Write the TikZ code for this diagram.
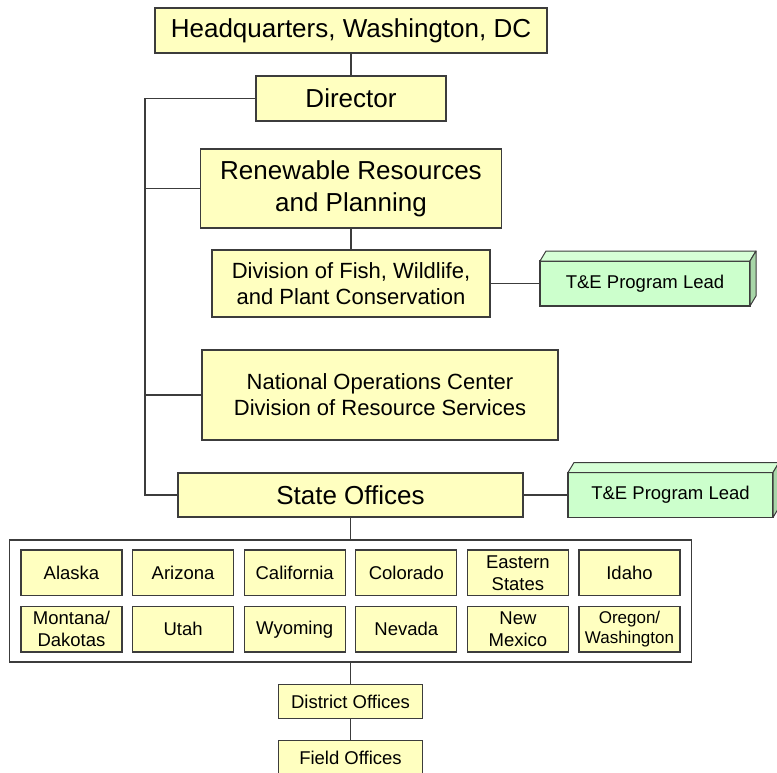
\documentclass[tikz,border=0pt]{standalone}
\usepackage{fontspec}
\setmainfont{Liberation Sans}
\usetikzlibrary{matrix}
\usetikzlibrary{positioning}

\definecolor{boxyellow}{RGB}{255,255,192}
\definecolor{leadgreen}{RGB}{204,255,204}
\definecolor{leadtop}{RGB}{214,255,214}
\definecolor{leadside}{RGB}{168,214,168}
\definecolor{edgegray}{RGB}{60,60,60}

\tikzset{
  orgbox/.style={draw=edgegray, line width=1.2pt, fill=boxyellow, align=center, inner sep=0pt, outer sep=0pt},
  bigtext/.style={font=\fontsize{26}{32}\selectfont},
  midtext/.style={font=\fontsize{22}{26}\selectfont},
  smalltext/.style={font=\fontsize{18.5}{22}\selectfont},
  statebox/.style={orgbox, smalltext, minimum width=101pt, minimum height=45.5pt},
  leadbox/.style={draw=edgegray, line width=1.2pt, fill=leadgreen, smalltext, inner sep=0pt, outer sep=0pt, minimum height=45pt},
  leadface/.style={draw=edgegray, line width=1pt, line join=round},
  link/.style={draw=edgegray, line width=1.2pt},
}

\begin{document}
\begin{tikzpicture}[x=1pt, y=-1pt]

    \useasboundingbox (0,0) rectangle (777,772);
    \clip (0,0) rectangle (777,772);

    \node (HQ) [orgbox, bigtext, minimum width=392pt, minimum height=45pt] at (351,30.5) {Headquarters, Washington, DC};
    \node (Director) [orgbox, bigtext, minimum width=190pt, minimum height=45pt, below=23pt of HQ] {Director};
    \node (Renewable) [orgbox, bigtext, minimum width=301pt, minimum height=79pt, below=28pt of Director] {Renewable Resources\\and Planning};
    \node (Division) [orgbox, midtext, minimum width=278pt, minimum height=67pt, below=22pt of Renewable] {Division of Fish, Wildlife,\\and Plant Conservation};
    \node (National) [orgbox, midtext, minimum width=356pt, minimum height=90pt] at (380,395) {National Operations Center\\Division of Resource Services};
    \node (StateOffices) [orgbox, bigtext, minimum width=345pt, minimum height=44pt] at (350.5,495) {State Offices};

    \node (TELead1) [leadbox, minimum width=210pt, right=50pt of Division] {T\&E Program Lead};
    \node (TELead2) [leadbox, minimum width=205pt, right=45pt of StateOffices] {T\&E Program Lead};

    \matrix[name=States, draw=edgegray, line width=1.2pt, fill=white, inner xsep=10.6pt, inner ysep=9.4pt,
            column sep=9.4pt, row sep=9.8pt, nodes={statebox}] at (350.5,601) {
      \node (Alaska) {Alaska}; & \node (Arizona) {Arizona}; & \node (California) {California}; & \node (Colorado) {Colorado}; & \node (Eastern) {Eastern\\States}; & \node (Idaho) {Idaho}; \\
      \node (Montana) {Montana/\\Dakotas}; & \node (Utah) {Utah}; & \node (Wyoming) {Wyoming}; & \node (Nevada) {Nevada}; & \node (NewMexico) {New\\Mexico}; & \node (Oregon) [font=\fontsize{17}{20}\selectfont] {Oregon/\\Washington}; \\
    };

    \node (District) [orgbox, smalltext, minimum width=144pt, minimum height=34pt, below=22pt of States] {District Offices};
    \node (Field) [orgbox, smalltext, minimum width=144pt, minimum height=34pt, below=22pt of District] {Field Offices};

    \coordinate (SpineTop) at (145,98.5);
    \coordinate (SpineBot) at (145,495);

    \draw[link] (HQ) -- (Director);
    \draw[link] (Renewable) -- (Division);
    \draw[link] (Director.west) -- (SpineTop) -- (SpineBot) -- (StateOffices.west);
    \draw[link] (Renewable.west) -- (Renewable.west -| SpineTop);
    \draw[link] (National.west) -- (National.west -| SpineTop);
    \draw[link] (Division.east) -- (Division.east -| TELead1.west);
    \draw[link] (StateOffices.east) -- (StateOffices.east -| TELead2.west);
    \draw[link] (StateOffices.south) -- (States.north);
    \draw[link] (States.south) -- (District.north);
    \draw[link] (District) -- (Field);

    \foreach \lead in {TELead1,TELead2} {
      \draw[leadface, fill=leadtop] (\lead.north west) -- ++(6,-10) -- ([shift={(6,-10)}]\lead.north east) -- (\lead.north east) -- cycle;
      \draw[leadface, fill=leadside] (\lead.north east) -- ++(6,-10) -- ([shift={(6,-10)}]\lead.south east) -- (\lead.south east) -- cycle;
    }

\end{tikzpicture}
\end{document}
